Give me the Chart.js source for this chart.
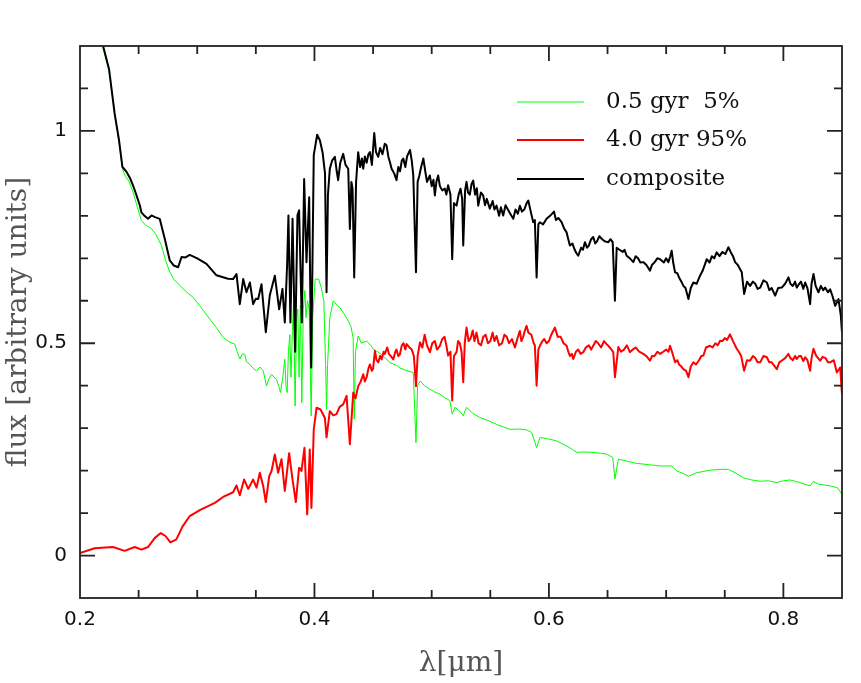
<!DOCTYPE html>
<html>
<head>
<meta charset="utf-8">
<script src="https://cdn.jsdelivr.net/npm/chart.js@4/dist/chart.umd.min.js"></script>
<style>
  html, body { margin: 0; padding: 0; background: #fff; }
  #wrap { width: 861px; height: 683px; }
</style>
</head>
<body>
<div id="wrap"><canvas id="spectrum"></canvas></div>
<script>
/* ------------------------------------------------------------
   Composite spectrum: young (0.5 gyr) + old (4.0 gyr) population
   each spectrum is a list of [wavelength (micron), flux]
------------------------------------------------------------ */

const seriesLabels = ['0.5 gyr  5%', '4.0 gyr 95%', 'composite'];
const seriesColors = ['#00ff00', '#ff0000', '#000000'];

const xTickValues = [0.2, 0.4, 0.6, 0.8];
const yTickValues = [0, 0.5, 1];

// 0.5 gyr, 5%
const youngSpectrum = [
  [0.2180,1.225],[0.2197,1.195],[0.2248,1.140],[0.2296,1.037],[0.2333,0.974],[0.2362,0.911],[0.2382,0.896],
  [0.2420,0.880],[0.2452,0.856],[0.2490,0.820],[0.2524,0.789],[0.2560,0.778],[0.2610,0.770],[0.2650,0.755],
  [0.2695,0.730],[0.2730,0.695],[0.2766,0.668],[0.2800,0.650],[0.2830,0.643],[0.2851,0.636],[0.2880,0.628],
  [0.2920,0.618],[0.2965,0.608],[0.3030,0.585],[0.3107,0.557],[0.3160,0.538],[0.3221,0.514],[0.3280,0.502],
  [0.3320,0.498],[0.3340,0.480],[0.3363,0.463],[0.3385,0.475],[0.3406,0.474],[0.3420,0.456],[0.3449,0.450],
  [0.3480,0.440],[0.3506,0.435],[0.3535,0.444],[0.3563,0.435],[0.3591,0.399],[0.3610,0.415],[0.3634,0.427],
  [0.3655,0.420],[0.3676,0.415],[0.3700,0.395],[0.3710,0.384],[0.3730,0.420],[0.3747,0.462],[0.3757,0.400],
  [0.3767,0.384],[0.3778,0.480],[0.3790,0.520],[0.3800,0.420],[0.3812,0.530],[0.3822,0.600],[0.3835,0.352],
  [0.3848,0.560],[0.3858,0.580],[0.3869,0.420],[0.3880,0.590],[0.3892,0.360],[0.3905,0.580],[0.3918,0.624],
  [0.3928,0.560],[0.3940,0.600],[0.3955,0.580],[0.3972,0.329],[0.3985,0.560],[0.4006,0.651],[0.4035,0.651],
  [0.4058,0.631],[0.4080,0.600],[0.4095,0.450],[0.4103,0.344],[0.4112,0.450],[0.4131,0.560],[0.4160,0.600],
  [0.4190,0.590],[0.4217,0.584],[0.4250,0.570],[0.4288,0.553],[0.4310,0.540],[0.4330,0.513],[0.4339,0.321],
  [0.4350,0.480],[0.4373,0.517],[0.4400,0.500],[0.4445,0.505],[0.4480,0.495],[0.4502,0.486],[0.4550,0.478],
  [0.4587,0.470],[0.4644,0.454],[0.4700,0.448],[0.4729,0.442],[0.4780,0.436],[0.4843,0.431],[0.4866,0.266],
  [0.4880,0.400],[0.4900,0.411],[0.4940,0.400],[0.4984,0.392],[0.5027,0.385],[0.5070,0.380],[0.5110,0.372],
  [0.5155,0.365],[0.5175,0.333],[0.5198,0.349],[0.5240,0.340],[0.5269,0.329],[0.5297,0.349],[0.5350,0.335],
  [0.5411,0.325],[0.5480,0.318],[0.5553,0.309],[0.5610,0.303],[0.5667,0.297],[0.5740,0.298],[0.5809,0.296],
  [0.5852,0.290],[0.5895,0.254],[0.5923,0.278],[0.5990,0.275],[0.6065,0.270],[0.6151,0.258],[0.6200,0.250],
  [0.6236,0.243],[0.6300,0.244],[0.6378,0.243],[0.6440,0.241],[0.6492,0.239],[0.6544,0.231],[0.6563,0.180],
  [0.6592,0.227],[0.6670,0.222],[0.6748,0.217],[0.6850,0.214],[0.6948,0.211],[0.7047,0.211],[0.7090,0.199],
  [0.7140,0.194],[0.7190,0.187],[0.7260,0.195],[0.7374,0.201],[0.7450,0.203],[0.7531,0.203],[0.7600,0.193],
  [0.7659,0.183],[0.7730,0.178],[0.7802,0.175],[0.7870,0.176],[0.7944,0.172],[0.8000,0.176],[0.8057,0.178],
  [0.8140,0.172],[0.8228,0.164],[0.8257,0.175],[0.8300,0.168],[0.8399,0.164],[0.8460,0.160],[0.8500,0.144]
];

// 4.0 gyr, 95%
const oldSpectrum = [
  [0.2000,0.006],[0.2125,0.017],[0.2282,0.020],[0.2381,0.011],[0.2467,0.020],[0.2524,0.014],[0.2580,0.020],
  [0.2637,0.041],[0.2689,0.053],[0.2729,0.046],[0.2771,0.031],[0.2822,0.038],[0.2874,0.068],[0.2936,0.093],
  [0.3022,0.107],[0.3150,0.124],[0.3221,0.138],[0.3306,0.149],[0.3335,0.165],[0.3363,0.142],[0.3400,0.179],
  [0.3435,0.157],[0.3477,0.179],[0.3506,0.160],[0.3534,0.195],[0.3563,0.163],[0.3585,0.126],[0.3614,0.187],
  [0.3634,0.199],[0.3662,0.238],[0.3690,0.195],[0.3719,0.227],[0.3747,0.152],[0.3784,0.241],[0.3813,0.179],
  [0.3841,0.126],[0.3869,0.207],[0.3889,0.199],[0.3915,0.254],[0.3938,0.097],[0.3960,0.250],[0.3974,0.112],
  [0.3994,0.297],[0.4018,0.348],[0.4052,0.344],[0.4089,0.324],[0.4103,0.278],[0.4131,0.340],[0.4160,0.330],
  [0.4188,0.333],[0.4215,0.350],[0.4245,0.356],[0.4274,0.376],[0.4302,0.262],[0.4331,0.384],[0.4350,0.370],
  [0.4373,0.399],[0.4395,0.410],[0.4416,0.427],[0.4430,0.410],[0.4445,0.420],[0.4460,0.440],[0.4473,0.450],
  [0.4490,0.435],[0.4500,0.440],[0.4516,0.482],[0.4530,0.460],[0.4545,0.455],[0.4560,0.470],[0.4573,0.462],
  [0.4590,0.480],[0.4600,0.475],[0.4621,0.490],[0.4635,0.475],[0.4650,0.470],[0.4672,0.462],[0.4690,0.480],
  [0.4700,0.485],[0.4715,0.470],[0.4729,0.474],[0.4745,0.495],[0.4760,0.500],[0.4775,0.485],[0.4786,0.498],
  [0.4810,0.490],[0.4830,0.485],[0.4848,0.470],[0.4866,0.399],[0.4880,0.470],[0.4900,0.502],[0.4920,0.490],
  [0.4940,0.520],[0.4960,0.495],[0.4985,0.479],[0.5005,0.500],[0.5027,0.505],[0.5045,0.485],[0.5070,0.494],
  [0.5090,0.510],[0.5110,0.515],[0.5125,0.495],[0.5140,0.471],[0.5160,0.480],[0.5175,0.365],[0.5190,0.470],
  [0.5212,0.479],[0.5225,0.505],[0.5240,0.500],[0.5255,0.480],[0.5269,0.408],[0.5282,0.500],[0.5297,0.537],
  [0.5315,0.505],[0.5330,0.510],[0.5350,0.530],[0.5365,0.505],[0.5382,0.525],[0.5400,0.500],[0.5420,0.495],
  [0.5440,0.515],[0.5460,0.520],[0.5480,0.500],[0.5500,0.505],[0.5520,0.525],[0.5535,0.505],[0.5553,0.517],
  [0.5575,0.495],[0.5600,0.500],[0.5620,0.520],[0.5640,0.515],[0.5660,0.500],[0.5685,0.510],[0.5710,0.490],
  [0.5730,0.510],[0.5752,0.529],[0.5765,0.505],[0.5780,0.515],[0.5795,0.530],[0.5809,0.541],[0.5825,0.525],
  [0.5850,0.520],[0.5870,0.500],[0.5880,0.495],[0.5895,0.400],[0.5910,0.485],[0.5923,0.494],[0.5945,0.505],
  [0.5960,0.510],[0.5980,0.500],[0.6000,0.505],[0.6020,0.520],[0.6051,0.537],[0.6075,0.515],[0.6100,0.515],
  [0.6125,0.500],[0.6151,0.494],[0.6165,0.480],[0.6179,0.470],[0.6195,0.475],[0.6208,0.463],[0.6230,0.480],
  [0.6250,0.485],[0.6270,0.475],[0.6293,0.479],[0.6315,0.490],[0.6340,0.495],[0.6360,0.485],[0.6378,0.494],
  [0.6400,0.505],[0.6420,0.500],[0.6445,0.490],[0.6470,0.505],[0.6492,0.498],[0.6520,0.490],[0.6549,0.479],
  [0.6563,0.420],[0.6592,0.491],[0.6615,0.480],[0.6640,0.485],[0.6665,0.495],[0.6691,0.479],[0.6715,0.485],
  [0.6740,0.490],[0.6770,0.480],[0.6805,0.475],[0.6830,0.470],[0.6862,0.459],[0.6880,0.470],[0.6900,0.470],
  [0.6925,0.480],[0.6948,0.475],[0.6975,0.480],[0.7000,0.485],[0.7020,0.480],[0.7033,0.494],[0.7050,0.480],
  [0.7076,0.455],[0.7095,0.460],[0.7110,0.450],[0.7130,0.445],[0.7147,0.439],[0.7170,0.435],[0.7190,0.420],
  [0.7210,0.445],[0.7232,0.455],[0.7255,0.450],[0.7280,0.460],[0.7300,0.470],[0.7318,0.471],[0.7340,0.490],
  [0.7374,0.494],[0.7395,0.490],[0.7420,0.500],[0.7440,0.495],[0.7460,0.506],[0.7480,0.505],[0.7500,0.512],
  [0.7520,0.508],[0.7545,0.521],[0.7570,0.505],[0.7602,0.487],[0.7620,0.480],[0.7640,0.470],[0.7665,0.435],
  [0.7690,0.460],[0.7716,0.459],[0.7740,0.470],[0.7760,0.465],[0.7780,0.455],[0.7802,0.455],[0.7830,0.470],
  [0.7859,0.467],[0.7880,0.455],[0.7900,0.455],[0.7944,0.439],[0.7965,0.455],[0.7990,0.460],[0.8015,0.465],
  [0.8043,0.475],[0.8060,0.465],[0.8080,0.460],[0.8100,0.470],[0.8114,0.463],[0.8135,0.470],[0.8150,0.470],
  [0.8170,0.458],[0.8186,0.467],[0.8205,0.460],[0.8228,0.435],[0.8240,0.465],[0.8257,0.487],[0.8280,0.470],
  [0.8314,0.459],[0.8335,0.468],[0.8360,0.465],[0.8380,0.455],[0.8399,0.455],[0.8430,0.460],[0.8456,0.431],
  [0.8484,0.443],[0.8500,0.380]
];

// composite
const compositeSpectrum = [
  [0.2180,1.225],[0.2197,1.200],[0.2248,1.145],[0.2296,1.040],[0.2333,0.978],[0.2362,0.915],[0.2396,0.904],
  [0.2425,0.890],[0.2452,0.872],[0.2480,0.850],[0.2510,0.825],[0.2524,0.808],[0.2550,0.800],[0.2580,0.793],
  [0.2610,0.801],[0.2640,0.797],[0.2680,0.793],[0.2723,0.746],[0.2766,0.695],[0.2800,0.683],[0.2837,0.679],
  [0.2866,0.703],[0.2900,0.702],[0.2936,0.708],[0.3000,0.700],[0.3079,0.687],[0.3164,0.660],[0.3263,0.652],
  [0.3306,0.651],[0.3335,0.663],[0.3363,0.592],[0.3392,0.651],[0.3420,0.620],[0.3449,0.643],[0.3477,0.592],
  [0.3500,0.605],[0.3520,0.604],[0.3548,0.639],[0.3585,0.526],[0.3619,0.613],[0.3662,0.659],[0.3699,0.580],
  [0.3727,0.628],[0.3747,0.549],[0.3767,0.687],[0.3778,0.801],[0.3795,0.549],[0.3813,0.793],[0.3835,0.480],
  [0.3855,0.801],[0.3869,0.813],[0.3892,0.549],[0.3912,0.887],[0.3932,0.691],[0.3955,0.844],[0.3972,0.443],
  [0.3994,0.943],[0.4023,0.991],[0.4046,0.978],[0.4069,0.950],[0.4090,0.900],[0.4103,0.620],[0.4115,0.850],
  [0.4131,0.911],[0.4150,0.930],[0.4174,0.939],[0.4190,0.905],[0.4202,0.884],[0.4220,0.925],[0.4245,0.946],
  [0.4265,0.920],[0.4288,0.911],[0.4302,0.769],[0.4315,0.880],[0.4325,0.864],[0.4339,0.655],[0.4355,0.880],
  [0.4373,0.950],[0.4390,0.915],[0.4405,0.935],[0.4416,0.911],[0.4430,0.940],[0.4445,0.925],[0.4460,0.945],
  [0.4473,0.950],[0.4490,0.920],[0.4510,0.995],[0.4525,0.950],[0.4544,0.939],[0.4560,0.960],[0.4580,0.945],
  [0.4600,0.970],[0.4615,0.966],[0.4630,0.940],[0.4645,0.925],[0.4658,0.911],[0.4680,0.900],[0.4700,0.884],
  [0.4715,0.915],[0.4730,0.905],[0.4745,0.930],[0.4758,0.935],[0.4775,0.915],[0.4790,0.940],[0.4815,0.955],
  [0.4830,0.930],[0.4843,0.895],[0.4866,0.667],[0.4880,0.880],[0.4895,0.895],[0.4910,0.915],[0.4929,0.935],
  [0.4945,0.905],[0.4960,0.880],[0.4984,0.895],[0.5000,0.870],[0.5015,0.885],[0.5027,0.848],[0.5040,0.880],
  [0.5055,0.895],[0.5070,0.870],[0.5090,0.860],[0.5112,0.864],[0.5125,0.850],[0.5140,0.872],[0.5160,0.850],
  [0.5175,0.698],[0.5190,0.830],[0.5212,0.824],[0.5230,0.850],[0.5246,0.864],[0.5260,0.840],[0.5269,0.730],
  [0.5285,0.860],[0.5297,0.880],[0.5310,0.855],[0.5325,0.850],[0.5340,0.875],[0.5354,0.883],[0.5370,0.850],
  [0.5385,0.865],[0.5397,0.824],[0.5420,0.855],[0.5439,0.848],[0.5455,0.825],[0.5470,0.840],[0.5496,0.817],
  [0.5520,0.835],[0.5535,0.815],[0.5553,0.824],[0.5575,0.800],[0.5590,0.820],[0.5610,0.801],[0.5630,0.825],
  [0.5650,0.815],[0.5670,0.805],[0.5696,0.793],[0.5715,0.815],[0.5735,0.805],[0.5752,0.824],[0.5770,0.810],
  [0.5790,0.815],[0.5810,0.830],[0.5824,0.836],[0.5845,0.810],[0.5866,0.785],[0.5880,0.790],[0.5895,0.655],
  [0.5910,0.780],[0.5923,0.785],[0.5950,0.780],[0.5980,0.793],[0.6010,0.800],[0.6043,0.810],[0.6060,0.790],
  [0.6080,0.795],[0.6108,0.785],[0.6130,0.770],[0.6151,0.761],[0.6165,0.745],[0.6179,0.730],[0.6200,0.735],
  [0.6220,0.720],[0.6235,0.712],[0.6250,0.706],[0.6275,0.725],[0.6290,0.720],[0.6307,0.738],[0.6325,0.725],
  [0.6340,0.730],[0.6360,0.745],[0.6378,0.750],[0.6395,0.735],[0.6410,0.740],[0.6430,0.752],[0.6450,0.746],
  [0.6475,0.740],[0.6507,0.738],[0.6525,0.745],[0.6544,0.738],[0.6563,0.600],[0.6578,0.725],[0.6592,0.722],
  [0.6630,0.715],[0.6645,0.720],[0.6663,0.706],[0.6690,0.700],[0.6720,0.691],[0.6740,0.705],[0.6760,0.700],
  [0.6780,0.690],[0.6805,0.691],[0.6830,0.685],[0.6862,0.671],[0.6880,0.685],[0.6900,0.690],[0.6925,0.700],
  [0.6948,0.698],[0.6980,0.690],[0.7000,0.700],[0.7019,0.691],[0.7035,0.705],[0.7047,0.718],[0.7060,0.690],
  [0.7076,0.667],[0.7095,0.665],[0.7110,0.655],[0.7130,0.645],[0.7147,0.635],[0.7165,0.630],[0.7190,0.604],
  [0.7210,0.630],[0.7232,0.643],[0.7260,0.640],[0.7289,0.659],[0.7310,0.670],[0.7330,0.685],[0.7346,0.698],
  [0.7370,0.690],[0.7390,0.705],[0.7410,0.700],[0.7431,0.714],[0.7455,0.705],[0.7480,0.715],[0.7505,0.710],
  [0.7531,0.726],[0.7550,0.715],[0.7570,0.705],[0.7588,0.691],[0.7610,0.685],[0.7645,0.667],[0.7665,0.616],
  [0.7690,0.645],[0.7716,0.635],[0.7740,0.645],[0.7760,0.640],[0.7780,0.628],[0.7802,0.631],[0.7830,0.648],
  [0.7859,0.643],[0.7880,0.625],[0.7900,0.630],[0.7930,0.612],[0.7955,0.630],[0.7986,0.631],[0.8015,0.640],
  [0.8043,0.655],[0.8060,0.640],[0.8080,0.635],[0.8100,0.645],[0.8114,0.631],[0.8135,0.640],[0.8150,0.645],
  [0.8170,0.628],[0.8186,0.643],[0.8205,0.630],[0.8228,0.592],[0.8240,0.640],[0.8257,0.663],[0.8275,0.635],
  [0.8299,0.620],[0.8320,0.635],[0.8340,0.625],[0.8356,0.631],[0.8380,0.620],[0.8399,0.627],[0.8420,0.610],
  [0.8442,0.588],[0.8470,0.604],[0.8490,0.565],[0.8500,0.525]
];

function toPoints(spectrum) {
    return spectrum.map(p => ({ x: p[0], y: p[1] }));
}

// frame on all four sides with inward major/minor ticks
const frameTicksPlugin = {
    id: 'frameTicks',
    afterDraw(chart) {
        const { ctx, chartArea: a, scales } = chart;
        const xs = scales.x, ys = scales.y;
        ctx.save();
        ctx.strokeStyle = '#222';
        ctx.lineWidth = 1.8;
        ctx.strokeRect(a.left, a.top, a.right - a.left, a.bottom - a.top);
        ctx.beginPath();
        for (let k = 5; k <= 16; k++) {
            const px = xs.getPixelForValue(k * 0.05);
            const len = (k % 4 === 0) ? 15 : 8;
            ctx.moveTo(px, a.bottom); ctx.lineTo(px, a.bottom - len);
            ctx.moveTo(px, a.top); ctx.lineTo(px, a.top + len);
        }
        for (let k = 0; k <= 11; k++) {
            const py = ys.getPixelForValue(k / 10);
            const len = (k % 5 === 0) ? 15 : 8;
            ctx.moveTo(a.left, py); ctx.lineTo(a.left + len, py);
            ctx.moveTo(a.right, py); ctx.lineTo(a.right - len, py);
        }
        ctx.stroke();
        ctx.restore();
    }
};

// legend inside the frame, upper right
const spectrumLegendPlugin = {
    id: 'spectrumLegend',
    afterDraw(chart) {
        const { ctx, chartArea: a } = chart;
        const x0 = a.right - 325, x1 = a.right - 258, tx = a.right - 236;
        const rows = [a.top + 56, a.top + 94, a.top + 133];
        ctx.save();
        ctx.font = '23px "DejaVu Serif"';
        ctx.textBaseline = 'middle';
        ctx.textAlign = 'left';
        chart.data.datasets.forEach((ds, i) => {
            ctx.strokeStyle = ds.borderColor;
            ctx.lineWidth = ds.borderWidth;
            ctx.beginPath();
            ctx.moveTo(x0, rows[i]);
            ctx.lineTo(x1, rows[i]);
            ctx.stroke();
            ctx.fillStyle = '#111';
            ctx.fillText(ds.label, tx, rows[i]);
        });
        ctx.restore();
    }
};

new Chart(document.getElementById('spectrum'), {
    type: 'line',
    data: {
        datasets: [
            { label: seriesLabels[0], data: toPoints(youngSpectrum), borderColor: seriesColors[0], borderWidth: 1, order: 2 },
            { label: seriesLabels[1], data: toPoints(oldSpectrum), borderColor: seriesColors[1], borderWidth: 2, order: 1 },
            { label: seriesLabels[2], data: toPoints(compositeSpectrum), borderColor: seriesColors[2], borderWidth: 2, order: 0 }
        ]
    },
    options: {
        responsive: true,
        maintainAspectRatio: false,
        devicePixelRatio: 1,
        animation: false,
        layout: { padding: { top: 46, right: 19, left: 0, bottom: 0 } },
        elements: {
            point: { radius: 0 },
            line: { tension: 0, fill: false, borderJoinStyle: 'round' }
        },
        scales: {
            x: {
                type: 'linear',
                min: 0.2,
                max: 0.85,
                afterBuildTicks: s => { s.ticks = xTickValues.map(v => ({ value: v })); },
                afterFit: s => { s.height = 85; },
                grid: { display: false, drawTicks: false },
                border: { display: false },
                ticks: {
                    color: '#111',
                    font: { family: 'DejaVu Sans', size: 20 },
                    padding: 10,
                    maxRotation: 0,
                    callback: v => String(v)
                },
                title: {
                    display: true,
                    text: 'λ[μm]',
                    color: '#555',
                    font: { family: 'DejaVu Serif', size: 28 },
                    padding: { top: 0, bottom: 2 }
                }
            },
            y: {
                type: 'linear',
                min: -0.1,
                max: 1.2,
                afterBuildTicks: s => { s.ticks = yTickValues.map(v => ({ value: v })); },
                afterFit: s => { s.width = 80; },
                grid: { display: false, drawTicks: false },
                border: { display: false },
                ticks: {
                    color: '#111',
                    font: { family: 'DejaVu Sans', size: 20 },
                    padding: 13,
                    callback: v => String(v)
                },
                title: {
                    display: true,
                    text: 'flux [arbitrary units]',
                    color: '#555',
                    font: { family: 'DejaVu Serif', size: 28 },
                    padding: { top: 2, bottom: 0 }
                }
            }
        },
        plugins: {
            legend: { display: false },
            tooltip: { enabled: false }
        }
    },
    plugins: [frameTicksPlugin, spectrumLegendPlugin]
});
</script>
</body>
</html>
